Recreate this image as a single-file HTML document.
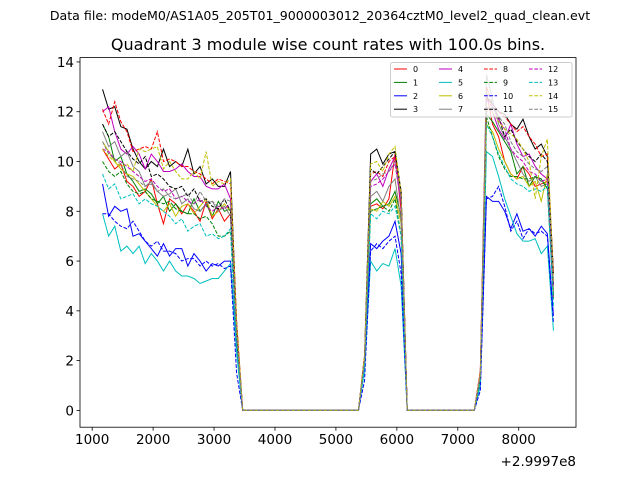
<!DOCTYPE html>
<html><head><meta charset="utf-8"><style>
body{margin:0;background:#fff;}
svg text{font-family:"DejaVu Sans","Liberation Sans",sans-serif;}
</style></head><body>
<svg id="chart" width="640" height="480" viewBox="0 0 640 480" xmlns="http://www.w3.org/2000/svg">
<rect width="640" height="480" fill="#fff"/>
<text x="320" y="20" font-size="12.6" text-anchor="middle">Data file: modeM0/AS1A05_205T01_9000003012_20364cztM0_level2_quad_clean.evt</text>
<text x="328" y="50" font-size="16" text-anchor="middle">Quadrant 3 module wise count rates with 100.0s bins.</text>
<g id="plot"></g>
<g id="axes"></g>
<g id="legend"></g>
</svg>
<script>
const seriesNames=["0","1","2","3","4","5","6","7","8","9","10","11","12","13","14","15"];
const colors=["#ff0000","#008000","#0000ff","#000000","#bf00bf","#00bfbf","#bfbf00","#808080"];
const xTicks=[1000,2000,3000,4000,5000,6000,7000,8000];
const yTicks=[0,2,4,6,8,10,12,14];
const tStart=1170, tStep=100;
const Z20=[0,0,0,0,0,0,0,0,0,0,0,0,0,0,0,0,0,0,0,0];
const Z12=[0,0,0,0,0,0,0,0,0,0,0,0];
const seg1=[
[10.5,10.1,9.7,9.9,9.2,9.0,8.6,8.8,9.3,8.3,7.5,8.5,8.3,7.9,8.3,8.0,7.6,8.4,7.7,8.1,7.6,7.9,3.0],
[11.5,11.0,10.0,10.2,9.5,9.2,8.8,8.9,8.7,8.3,8.6,8.0,8.3,8.0,7.9,8.5,8.0,8.3,7.8,8.4,8.0,8.1,3.0],
[9.1,7.8,8.2,8.0,8.1,7.0,7.1,6.8,6.5,6.2,6.7,6.2,6.5,6.5,5.8,6.3,6.0,5.6,5.9,5.8,6.0,6.0,2.5],
[12.9,12.1,12.2,11.4,11.3,10.5,10.0,9.7,10.0,9.8,10.5,9.8,10.0,9.8,10.5,9.5,9.8,9.1,9.3,9.0,9.0,9.6,3.5],
[12.0,12.2,11.2,10.5,10.3,10.6,10.3,9.7,10.3,10.0,9.6,9.6,9.7,9.9,9.6,9.4,9.4,9.0,8.9,8.9,9.1,8.5,3.2],
[7.9,7.0,7.4,6.4,6.6,6.3,6.6,5.9,6.3,6.0,5.6,6.0,5.6,5.4,5.4,5.3,5.1,5.2,5.3,5.3,5.6,5.9,2.3],
[10.8,10.4,10.0,9.7,9.5,9.4,9.1,8.8,8.5,8.2,8.0,8.3,7.8,8.2,8.3,7.9,8.2,8.5,7.8,8.0,8.3,8.0,3.0],
[11.2,10.6,10.8,10.2,10.4,9.8,9.6,9.0,9.2,8.8,8.6,8.7,8.9,8.3,8.5,8.1,8.0,8.3,8.4,8.0,8.2,7.8,3.0],
[12.1,11.5,12.4,11.6,11.2,10.4,10.5,10.6,10.5,11.2,10.0,10.1,10.0,9.8,9.8,9.6,9.5,9.3,9.1,9.3,9.2,9.1,3.6],
[10.0,9.6,9.4,9.6,9.1,8.8,8.7,8.8,8.5,8.4,8.3,8.4,8.1,8.0,7.9,7.9,7.7,7.8,7.5,7.0,7.0,7.2,2.8],
[7.9,7.9,7.6,7.4,7.3,7.6,7.2,6.8,6.6,6.8,6.4,6.4,6.3,6.0,6.1,6.1,5.8,6.0,5.8,5.9,5.7,5.8,1.5],
[11.5,11.0,11.2,10.8,10.4,10.1,9.9,10.2,9.4,9.5,9.3,9.0,8.9,9.0,8.6,8.9,8.4,8.5,8.2,8.1,8.5,8.0,3.0],
[10.5,10.4,10.1,10.0,9.8,9.6,9.4,9.2,9.3,9.0,8.8,8.9,8.5,8.6,8.4,8.3,8.5,8.2,8.0,8.2,8.1,8.3,3.0],
[9.5,8.9,9.1,8.5,8.6,8.7,8.3,8.5,8.3,8.2,8.0,7.8,7.5,7.7,7.2,7.4,7.5,7.0,7.1,6.9,7.0,7.3,2.5],
[10.5,10.2,10.0,9.8,9.9,9.6,10.5,10.4,10.5,10.6,9.7,10.0,9.6,9.3,9.3,9.6,9.3,10.4,9.0,9.2,9.1,9.3,3.5],
[10.8,10.3,10.1,9.9,9.4,9.3,9.2,9.0,9.1,8.8,8.9,8.6,8.5,8.6,8.7,8.3,8.8,8.4,8.4,8.2,8.5,8.4,3.0]];
const seg2=[
[2.0,8.2,8.3,8.1,8.5,10.3,8.0],[2.0,8.3,8.5,8.2,8.3,8.8,7.8],[1.8,6.7,6.5,6.8,7.0,7.6,6.3],[2.2,10.3,10.5,9.9,10.3,10.4,8.7],
[2.1,9.2,9.5,9.0,9.7,10.2,8.3],[1.6,6.0,5.6,5.9,5.8,6.5,5.0],[2.0,8.1,8.0,8.4,8.2,8.6,7.5],[2.0,8.6,8.8,8.4,9.0,9.3,7.6],
[2.2,9.5,9.6,9.4,10.0,10.2,8.8],[1.9,8.0,8.1,8.2,8.0,8.5,7.0],[1.2,6.4,6.7,6.5,6.8,7.0,5.5],[2.0,9.7,9.5,9.8,10.1,10.4,8.8],
[2.0,9.0,9.1,9.3,9.6,9.9,8.3],[1.8,7.9,7.7,8.0,7.9,8.2,7.0],[2.2,9.9,10.0,9.6,10.3,10.6,8.7],[2.0,9.2,9.3,9.5,9.6,10.0,8.5]];
const seg3=[
[1.5,12.8,11.5,11.0,10.0,9.5,9.3,9.8,9.5,9.0,9.1,9.2,4.5],
[1.2,11.9,11.6,11.2,10.8,10.4,9.5,9.8,9.0,9.4,9.3,8.9,4.6],
[1.0,8.6,8.4,8.4,8.0,7.3,7.9,7.2,7.3,7.0,7.4,7.1,3.8],
[1.4,12.6,12.3,12.0,11.9,11.5,11.3,11.7,11.0,10.5,10.7,10.2,5.5],
[1.3,12.2,12.0,11.3,10.9,11.5,10.7,10.2,10.3,9.8,9.5,9.3,5.0],
[1.0,10.4,10.2,9.4,8.5,7.8,7.1,6.8,6.8,6.9,6.3,6.6,3.2],
[1.3,11.5,11.2,10.5,10.0,9.5,9.3,9.4,9.0,9.2,8.4,9.5,4.8],
[1.5,13.5,12.5,11.5,11.0,10.5,10.0,9.5,9.2,9.4,9.0,9.1,4.6],
[1.6,13.0,12.3,12.0,11.8,11.5,11.2,11.4,11.0,10.7,10.2,10.3,5.5],
[1.2,11.8,11.0,10.2,9.7,9.4,9.4,9.3,9.3,9.4,9.2,9.0,4.5],
[0.8,8.5,8.6,9.0,8.2,7.2,7.6,6.9,7.3,7.1,7.2,7.0,3.5],
[1.3,12.0,12.2,11.8,11.0,11.3,10.8,10.5,10.2,10.0,10.3,10.0,5.0],
[1.4,12.5,12.2,11.7,11.3,10.5,10.2,10.0,9.6,9.5,9.2,9.3,5.0],
[1.2,11.5,11.0,10.3,9.8,9.3,9.1,9.0,8.8,8.9,8.8,9.0,4.2],
[1.5,12.3,12.0,11.6,11.3,11.1,10.9,10.5,10.0,8.5,10.2,10.9,5.2],
[1.4,12.8,12.4,11.8,11.5,10.8,10.4,10.2,9.9,9.7,9.6,9.8,5.0]];

const NS="http://www.w3.org/2000/svg";
const L=80,R=576,T=57.6,B=427.2;
const xMin=800,xMax=8940,yMin=-0.675,yMax=14.175;
const xs=v=>L+(v-xMin)/(xMax-xMin)*(R-L);
const ys=v=>B-(v-yMin)/(yMax-yMin)*(B-T);
function mk(tag,attrs,parent){const e=document.createElementNS(NS,tag);for(const k in attrs)e.setAttribute(k,attrs[k]);parent.appendChild(e);return e;}
const plot=document.getElementById('plot'),axes=document.getElementById('axes'),leg=document.getElementById('legend');
const cp=mk('clipPath',{id:'clip'},plot);
mk('rect',{x:L,y:T,width:R-L,height:B-T},cp);
for(let s=0;s<16;s++){
  const vals=[].concat(seg1[s],Z20,seg2[s],Z12,seg3[s]);
  const pts=vals.map((v,i)=>xs(tStart+i*tStep).toFixed(2)+','+ys(v).toFixed(2)).join(' ');
  const a={points:pts,fill:'none',stroke:colors[s%8],'stroke-width':1,'clip-path':'url(#clip)'};
  if(s>=8)a['stroke-dasharray']='3.7 1.6';
  const pl=mk('polyline',a,plot);
  
  
}
const fr=mk('rect',{x:L,y:T,width:R-L,height:B-T,fill:'none',stroke:'#000','stroke-width':0.8},axes);


xTicks.forEach(v=>{const x=xs(v);
  const tk=mk('line',{x1:x,x2:x,y1:B,y2:B+3.5,stroke:'#000','stroke-width':0.8},axes);
  
  
  const t=mk('text',{x:x,y:B+17,'font-size':13.5,'text-anchor':'middle'},axes);t.textContent=v;
  
  });
yTicks.forEach(v=>{const y=ys(v);
  const tk=mk('line',{x1:L-3.5,x2:L,y1:y,y2:y,stroke:'#000','stroke-width':0.8},axes);
  
  
  const t=mk('text',{x:L-6,y:y+5,'font-size':13.5,'text-anchor':'end'},axes);t.textContent=v;
  
  });
const off=mk('text',{x:R,y:466,'font-size':13.5,'text-anchor':'end'},axes);off.textContent='+2.9997e8';


const lb=mk('rect',{x:390.5,y:62.5,width:181.5,height:54.5,fill:'#fff','fill-opacity':0.8,stroke:'#ccc','stroke-width':1,rx:2},leg);


for(let s=0;s<16;s++){const col=Math.floor(s/4),row=s%4;const x=394+col*45,y=69+row*13.4;
  const g=mk('g',{},leg);
  
  
  const a={x1:x,x2:x+13,y1:y,y2:y,stroke:colors[s%8],'stroke-width':1};if(s>=8)a['stroke-dasharray']='3.7 1.6';
  mk('line',a,g);
  const t=mk('text',{x:x+19,y:y+3,'font-size':8},g);t.textContent=seriesNames[s];}
</script>
</body></html>
